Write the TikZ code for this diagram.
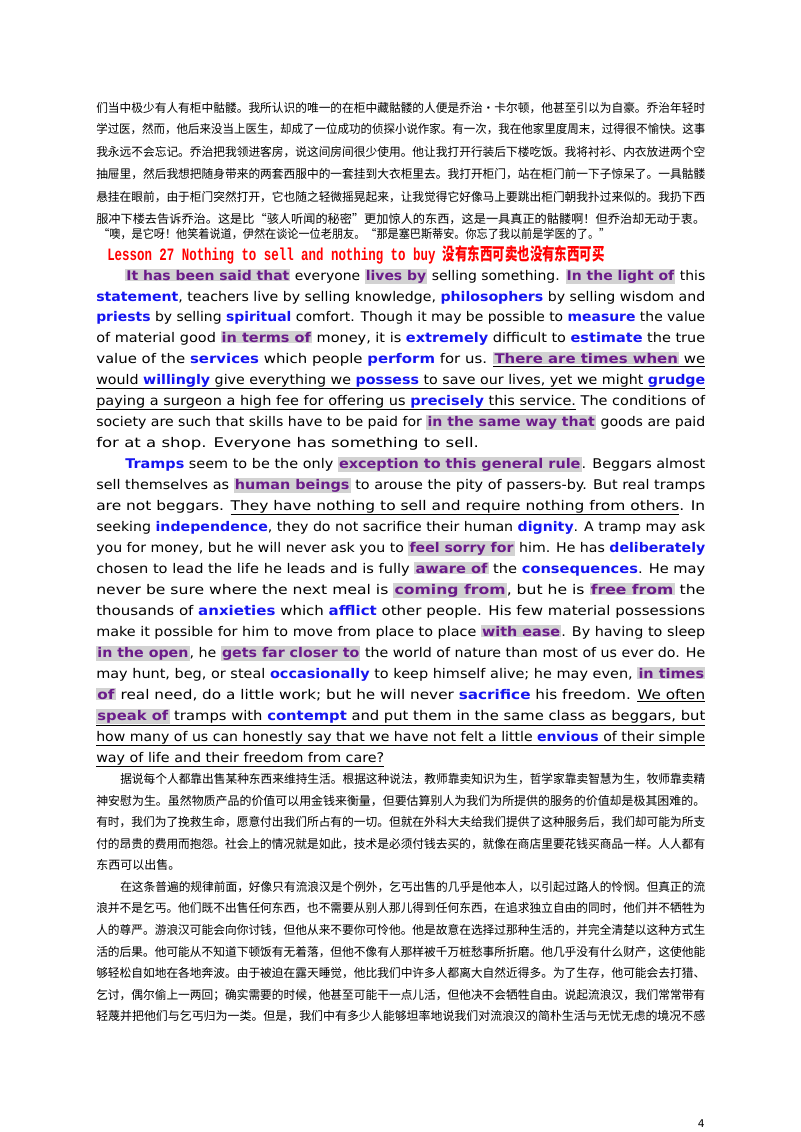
\documentclass[tikz,border=0pt]{standalone}
\usepackage{fontspec}
\usepackage{graphicx}
\setmainfont{DejaVu Sans}
\newfontfamily\cjk{Noto Sans CJK SC}
\newfontfamily\mono{Liberation Mono}
\definecolor{hlgray}{HTML}{D2D2D2}
\definecolor{hlpur}{HTML}{6A1B8A}
\definecolor{vb}{HTML}{1515F0}
\newcommand\hp[1]{{\setlength\fboxsep{0.8pt}\colorbox{hlgray}{\textcolor{hlpur}{\bfseries #1}}}}
\newcommand\bv[1]{\textcolor{vb}{\bfseries #1}}
\newcommand\ud[1]{\underline{#1}}
\newcounter{lnc}
\newcommand\JL[4]{\stepcounter{lnc}\node[anchor=base west,inner sep=0pt] (t\arabic{lnc}) at (#1,#2) {\resizebox{#3pt}{\height}{#4}};}
\newcommand\NL[3]{\stepcounter{lnc}\node[anchor=base west,inner sep=0pt] (t\arabic{lnc}) at (#1,#2) {#3};}
\tikzset{every node/.style={font=\fontsize{10}{12}\selectfont}}
\begin{document}
\begin{tikzpicture}[x=0.75pt,y=-0.75pt]
\useasboundingbox (0,0) rectangle (800,1132);
\begin{scope}[every node/.style={font=\cjk\fontsize{9}{11}\selectfont}]
\JL{96}{112}{456.75}{们当中极少有人有柜中骷髅。我所认识的唯一的在柜中藏骷髅的人便是乔治·卡尔顿，他甚至引以为自豪。乔治年轻时}
\JL{96}{133}{456.75}{学过医，然而，他后来没当上医生，却成了一位成功的侦探小说作家。有一次，我在他家里度周末，过得很不愉快。这事}
\JL{96}{156}{456.75}{我永远不会忘记。乔治把我领进客房，说这间房间很少使用。他让我打开行装后下楼吃饭。我将衬衫、内衣放进两个空}
\JL{96}{178}{456.75}{抽屉里，然后我想把随身带来的两套西服中的一套挂到大衣柜里去。我打开柜门，站在柜门前一下子惊呆了。一具骷髅}
\JL{96}{201}{456.75}{悬挂在眼前，由于柜门突然打开，它也随之轻微摇晃起来，让我觉得它好像马上要跳出柜门朝我扑过来似的。我扔下西}
\JL{96}{223}{456.75}{服冲下楼去告诉乔治。这是比“骇人听闻的秘密”更加惊人的东西，这是一具真正的骷髅啊！但乔治却无动于衷。}
\JL{98}{238}{384}{“噢，是它呀！他笑着说道，伊然在谈论一位老朋友。“那是塞巴斯蒂安。你忘了我以前是学医的了。”}
\end{scope}
\JL{107}{260}{373}{\textcolor{red}{\mono\bfseries\fontsize{13}{15}\selectfont Lesson 27 Nothing to sell and nothing to buy \cjk\bfseries 没有东西可卖也没有东西可买}}
\JL{125}{280}{435}{\hp{It has been said that} everyone \hp{lives by} selling something. \hp{In the light of} this}
\JL{96}{301}{456.75}{\bv{statement}, teachers live by selling knowledge, \bv{philosophers} by selling wisdom and}
\JL{96}{321}{456.75}{\bv{priests} by selling \bv{spiritual} comfort. Though it may be possible to \bv{measure} the value}
\JL{96}{342}{456.75}{of material good \hp{in terms of} money, it is \bv{extremely} difficult to \bv{estimate} the true}
\JL{96}{363}{456.75}{value of the \bv{services} which people \bv{perform} for us. \ud{\hp{There are times when} we}}
\JL{96}{384}{456.75}{\ud{would \bv{willingly} give everything we \bv{possess} to save our lives, yet we might \bv{grudge}}}
\JL{96}{405}{456.75}{\ud{paying a surgeon a high fee for offering us \bv{precisely} this service.} The conditions of}
\JL{96}{426}{456.75}{society are such that skills have to be paid for \hp{in the same way that} goods are paid}
\JL{96}{447}{287}{for at a shop. Everyone has something to sell.}
\JL{125}{468}{435}{\bv{Tramps} seem to be the only \hp{exception to this general rule}. Beggars almost}
\JL{96}{489}{456.75}{sell themselves as \hp{human beings} to arouse the pity of passers-by. But real tramps}
\JL{96}{510}{456.75}{are not beggars. \ud{They have nothing to sell and require nothing from others}. In}
\JL{96}{531}{456.75}{seeking \bv{independence}, they do not sacrifice their human \bv{dignity}. A tramp may ask}
\JL{96}{552}{456.75}{you for money, but he will never ask you to \hp{feel sorry for} him. He has \bv{deliberately}}
\JL{96}{573}{456.75}{chosen to lead the life he leads and is fully \hp{aware of} the \bv{consequences}. He may}
\JL{96}{594}{456.75}{never be sure where the next meal is \hp{coming from}, but he is \hp{free from} the}
\JL{96}{615}{456.75}{thousands of \bv{anxieties} which \bv{afflict} other people. His few material possessions}
\JL{96}{636}{456.75}{make it possible for him to move from place to place \hp{with ease}. By having to sleep}
\JL{96}{657}{456.75}{\hp{in the open}, he \hp{gets far closer to} the world of nature than most of us ever do. He}
\JL{96}{678}{456.75}{may hunt, beg, or steal \bv{occasionally} to keep himself alive; he may even, \hp{in times}}
\JL{96}{699}{456.75}{\hp{of} real need, do a little work; but he will never \bv{sacrifice} his freedom. \ud{We often}}
\JL{96}{720}{456.75}{\ud{\hp{speak of} tramps with \bv{contempt} and put them in the same class as beggars, but}}
\JL{96}{741}{456.75}{\ud{how many of us can honestly say that we have not felt a little \bv{envious} of their simple}}
\JL{96}{762}{216}{\ud{way of life and their freedom from care?}}
\begin{scope}[every node/.style={font=\cjk\fontsize{9}{11}\selectfont}]
\JL{120}{783}{438.75}{据说每个人都靠出售某种东西来维持生活。根据这种说法，教师靠卖知识为生，哲学家靠卖智慧为生，牧师靠卖精}
\JL{96}{805}{456.75}{神安慰为生。虽然物质产品的价值可以用金钱来衡量，但要估算别人为我们为所提供的服务的价值却是极其困难的。}
\JL{96}{826}{456.75}{有时，我们为了挽救生命，愿意付出我们所占有的一切。但就在外科大夫给我们提供了这种服务后，我们却可能为所支}
\JL{96}{848}{456.75}{付的昂贵的费用而抱怨。社会上的情况就是如此，技术是必须付钱去买的，就像在商店里要花钱买商品一样。人人都有}
\NL{96}{869}{东西可以出售。}
\JL{120}{891}{438.75}{在这条普遍的规律前面，好像只有流浪汉是个例外，乞丐出售的几乎是他本人，以引起过路人的怜悯。但真正的流}
\JL{96}{912}{456.75}{浪并不是乞丐。他们既不出售任何东西，也不需要从别人那儿得到任何东西，在追求独立自由的同时，他们并不牺牲为}
\JL{96}{934}{456.75}{人的尊严。游浪汉可能会向你讨钱，但他从来不要你可怜他。他是故意在选择过那种生活的，并完全清楚以这种方式生}
\JL{96}{956}{456.75}{活的后果。他可能从不知道下顿饭有无着落，但他不像有人那样被千万桩愁事所折磨。他几乎没有什么财产，这使他能}
\JL{96}{977}{456.75}{够轻松自如地在各地奔波。由于被迫在露天睡觉，他比我们中许多人都离大自然近得多。为了生存，他可能会去打猎、}
\JL{96}{999}{456.75}{乞讨，偶尔偷上一两回；确实需要的时候，他甚至可能干一点儿活，但他决不会牺牲自由。说起流浪汉，我们常常带有}
\JL{96}{1020}{456.75}{轻蔑并把他们与乞丐归为一类。但是，我们中有多少人能够坦率地说我们对流浪汉的简朴生活与无忧无虑的境况不感}
\end{scope}
\node[anchor=base east,inner sep=0pt,font=\fontsize{8}{10}\selectfont] (pg) at (705,1127) {4};
\end{tikzpicture}
\end{document}
